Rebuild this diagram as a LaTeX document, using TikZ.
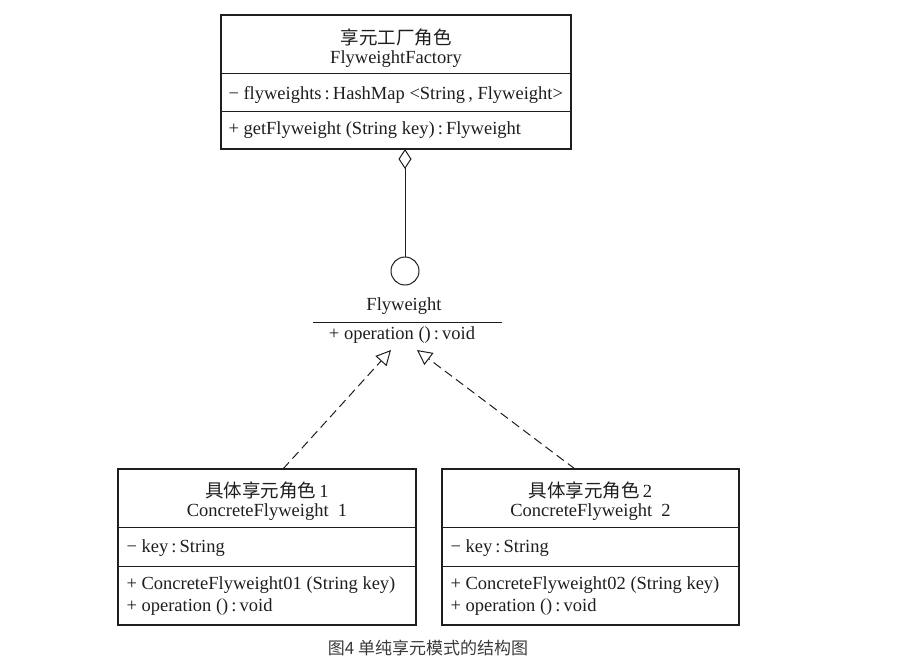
\documentclass[tikz,border=0pt]{standalone}
\usepackage{fontspec}
\setmainfont{Liberation Serif}
\newfontfamily\cjk{Noto Sans CJK SC}
\usetikzlibrary{arrows.meta}
\definecolor{ink}{HTML}{1E1E1E}
\definecolor{captionink}{HTML}{3A3A3A}
\begin{document}
\begin{tikzpicture}[x=1pt,y=-1pt,line width=1pt,draw=ink,
  umlbox/.style={draw=ink,line width=1.1pt,inner sep=0pt,minimum width=#1},
  txt/.style={font=\fontsize{18.5}{20}\selectfont,inner sep=0pt,text=ink},
  ltxt/.style={txt,anchor=west},
  ctitle/.style={font=\cjk\fontsize{18.5}{20}\selectfont,inner sep=0pt,text=ink},
  divider/.style={draw=ink,line width=1pt},
  realize/.style={draw=ink,line width=1pt,dash pattern=on 9pt off 5pt,-{Triangle[open,length=15pt,width=15pt]}},
  aggr/.style={draw=ink,line width=1pt,{Diamond[open,length=20pt,width=13pt]}-}
]
\useasboundingbox (0,0) rectangle (906,667);

% ---------- Factory box ----------
\node[umlbox=350pt,minimum height=134pt] (fac) at (396,82) {};
\draw[divider] (221,73) -- (571,73);
\draw[divider] (221,111) -- (571,111);
\node[ctitle] (facT1) at (396,37) {享元工厂角色};
\node[txt] (facT2) at (396,59.5) {FlyweightFactory};
\node[ltxt] (facA) at (228,94.5) {− flyweights\,:\,HashMap <String\,, Flyweight>};
\node[ltxt] (facM) at (228,130.5) {+ getFlyweight (String key)\,:\,Flyweight};

% ---------- Interface (lollipop) ----------
\node[draw=ink,circle,line width=1pt,minimum size=28pt,inner sep=0pt] (lol) at (405,271) {};
\node[txt] (ifName) at (404,306.5) {Flyweight};
\draw[divider] (313,322) -- (502,322);
\node[txt] (ifOp) at (402,335.5) {+ operation ()\,:\,void};
\coordinate (dtop) at (405,149);
\draw[aggr] (dtop) -- (lol.north);

% ---------- Concrete 1 ----------
\node[umlbox=298pt,minimum height=156pt] (c1) at (267,547) {};
\draw[divider] (118,527) -- (416,527);
\draw[divider] (118,566) -- (416,566);
\node[txt] (c1T1) at (267,490) {{\cjk 具体享元角色}\,1};
\node[txt] (c1T2) at (267,512.5) {ConcreteFlyweight\enspace 1};
\node[ltxt] (c1A) at (126,548.5) {− key\,:\,String};
\node[ltxt] (c1M1) at (126,585.5) {+ ConcreteFlyweight01 (String key)};
\node[ltxt] (c1M2) at (126,607.5) {+ operation ()\,:\,void};

% ---------- Concrete 2 ----------
\node[umlbox=297pt,minimum height=156pt] (c2) at (590.5,547) {};
\draw[divider] (442,527) -- (739,527);
\draw[divider] (442,566) -- (739,566);
\node[txt] (c2T1) at (590.5,490) {{\cjk 具体享元角色}\,2};
\node[txt] (c2T2) at (590.5,512.5) {ConcreteFlyweight\enspace 2};
\node[ltxt] (c2A) at (450,548.5) {− key\,:\,String};
\node[ltxt] (c2M1) at (450,585.5) {+ ConcreteFlyweight02 (String key)};
\node[ltxt] (c2M2) at (450,607.5) {+ operation ()\,:\,void};

% ---------- Realization arrows ----------
\coordinate (tipL) at (391,350);
\coordinate (tipR) at (417,350);
\coordinate (c1top) at (283,469);
\coordinate (c2top) at (575,469);
\draw[realize] (c1top) -- (tipL);
\draw[realize] (c2top) -- (tipR);

% ---------- Caption ----------
\node[font=\cjk\fontsize{17}{19}\selectfont,text=captionink,inner sep=0pt] (cap) at (428,648) {图4 单纯享元模式的结构图};
\end{tikzpicture}
\end{document}
